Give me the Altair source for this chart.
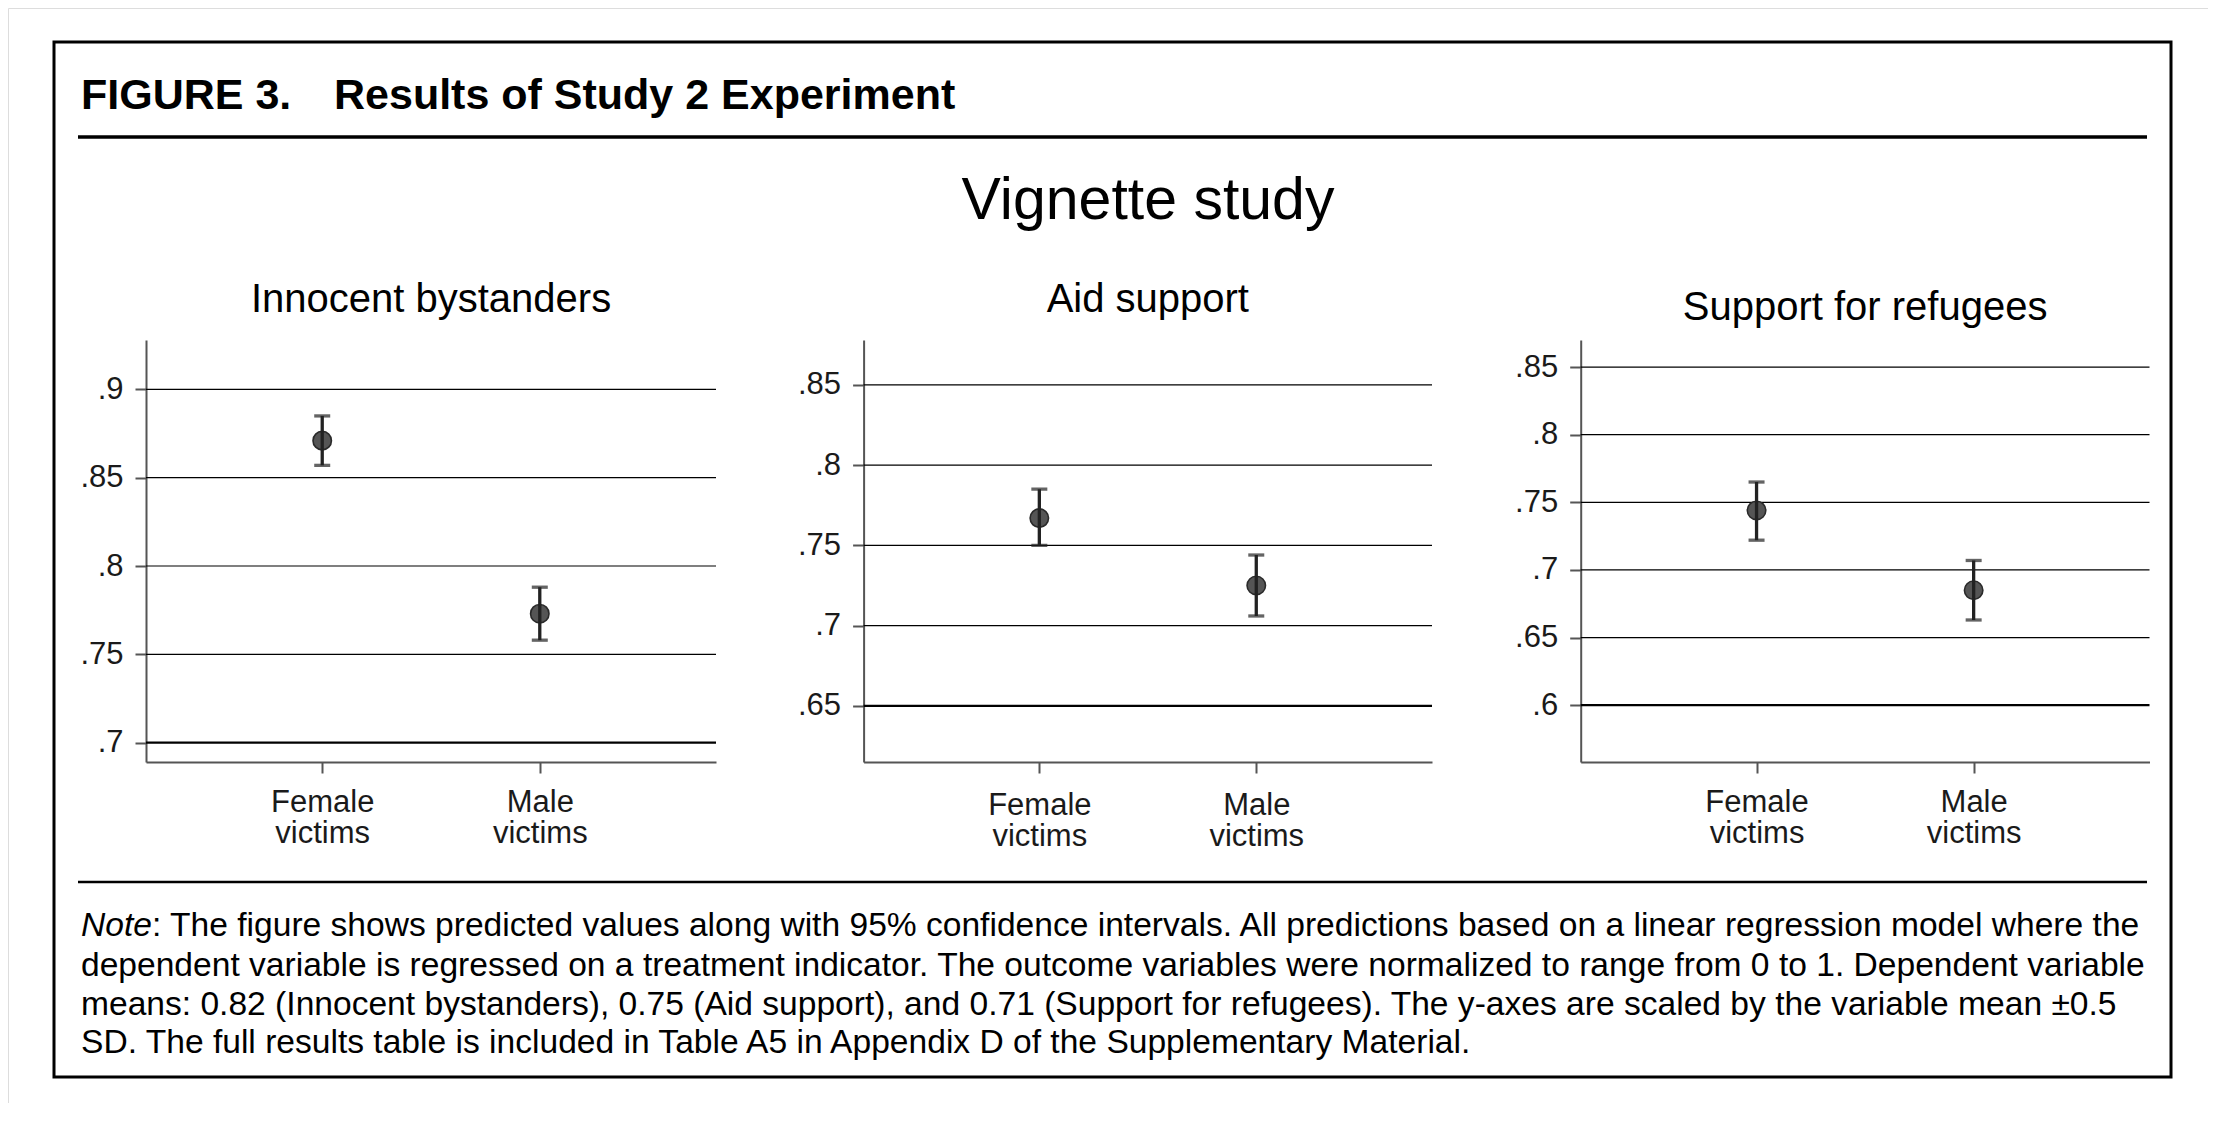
import altair as alt
import pandas as pd

# ---------------- data ----------------
panel_titles = ["Innocent bystanders", "Aid support", "Support for refugees"]
groups = ["Female victims", "Male victims"]
group_pos = [1, 2]
estimates = [[0.871, 0.773], [0.767, 0.725], [0.744, 0.685]]
ci_low = [[0.857, 0.758], [0.750, 0.706], [0.722, 0.663]]
ci_high = [[0.885, 0.788], [0.785, 0.744], [0.765, 0.707]]
y_ticks = [
    [0.7, 0.75, 0.8, 0.85, 0.9],
    [0.65, 0.7, 0.75, 0.8, 0.85],
    [0.6, 0.65, 0.7, 0.75, 0.8, 0.85],
]
y_domains = [[0.689, 0.928], [0.615, 0.878], [0.558, 0.870]]
x_domain = [0.19, 2.81]

fig_label = "FIGURE 3."
fig_title = "Results of Study 2 Experiment"
super_title = "Vignette study"
note_lead = "Note"
note_line1 = ": The figure shows predicted values along with 95% confidence intervals. All predictions based on a linear regression model where the"
note_rest = [
    "dependent variable is regressed on a treatment indicator. The outcome variables were normalized to range from 0 to 1. Dependent variable",
    "means: 0.82 (Innocent bystanders), 0.75 (Aid support), and 0.71 (Support for refugees). The y-axes are scaled by the variable mean \u00b10.5",
    "SD. The full results table is included in Table A5 in Appendix D of the Supplementary Material.",
]

# ---------------- layout ----------------
W, H = 2200, 1095
FONT = "Liberation Sans"
panel_x = [(138, 708), (855.6, 1424), (1572.7, 2141.5)]
panel_y = (754, 332)
title_y = [292, 292, 300]
xlabel_pad = [14, 17, 14]

one = alt.Data(values=[{}])


def text_mark(txt, x, y, size, align="left", weight="normal", style="normal", baseline="middle", line_height=None):
    kw = dict(align=align, baseline=baseline, font=FONT, fontSize=size,
              fontWeight=weight, fontStyle=style, color="black")
    if line_height is not None:
        kw["lineHeight"] = line_height
    return alt.Chart(one).mark_text(**kw).encode(
        x=alt.value(x), y=alt.value(y), text=alt.value(txt))


def hrule(y, x1, x2, width):
    return alt.Chart(one).mark_rule(color="black", strokeWidth=width).encode(
        x=alt.value(x1), x2=alt.value(x2), y=alt.value(y))


NOTE_SIZE = 33.6
decos = [
    alt.Chart(one).mark_rect(fillOpacity=0, stroke="black", strokeWidth=3).encode(
        x=alt.value(46), x2=alt.value(2163), y=alt.value(34), y2=alt.value(1069)),
    text_mark(fig_label, 73, 88, 43, weight="bold"),
    text_mark(fig_title, 326, 88, 43, weight="bold"),
    hrule(129, 70, 2139, 3.5),
    text_mark(super_title, 1140, 193, 59, align="center"),
    hrule(874, 70, 2139, 2.5),
    text_mark(note_lead, 73, 918, NOTE_SIZE, style="italic"),
    text_mark(note_line1, 144, 918, NOTE_SIZE),
    text_mark(note_rest, 73, 941, NOTE_SIZE, baseline="top", line_height=38.5),
]


def panel(i):
    x0, x1 = panel_x[i]
    xs = alt.Scale(domain=x_domain, range=[x0, x1], nice=False, zero=False)
    ys = alt.Scale(domain=y_domains[i], range=[panel_y[0], panel_y[1]], nice=False, zero=False)
    x_expr = "split(datum.value == 1 ? '%s' : '%s', ' ')" % (groups[0], groups[1])
    xaxis = alt.Axis(orient="bottom", offset=panel_y[0] - H, values=group_pos, labelExpr=x_expr,
                     grid=False, domainColor="#555555", domainWidth=2, tickColor="#555555",
                     tickWidth=2, tickSize=11, labelFont=FONT, labelFontSize=31,
                     labelLineHeight=31, labelPadding=xlabel_pad[i], labelColor="#1a1a1a", title=None)
    yaxis = alt.Axis(orient="left", offset=-x0, values=y_ticks[i],
                     labelExpr="substring(toString(datum.value), 1)",
                     grid=False, domainColor="#555555", domainWidth=2, tickColor="#555555",
                     tickWidth=2, tickSize=11, labelFont=FONT, labelFontSize=31,
                     labelPadding=12, labelColor="#1a1a1a", title=None)
    grid_df = pd.DataFrame({"v": y_ticks[i], "xa": x_domain[0], "xb": x_domain[1]})
    low_tick = min(y_ticks[i])
    grid = alt.Chart(grid_df).mark_rule(color="black").encode(
        x=alt.X("xa:Q", scale=xs, axis=xaxis),
        x2="xb:Q",
        y=alt.Y("v:Q", scale=ys, axis=yaxis),
        strokeWidth=alt.when(alt.datum.v == low_tick).then(alt.value(2.3)).otherwise(alt.value(1.2)),
    )
    df = pd.DataFrame({
        "group": groups, "pos": group_pos, "est": estimates[i],
        "lo": ci_low[i], "hi": ci_high[i],
    })
    pts = alt.Chart(df).mark_circle(size=340, color="#555555", stroke="#2a2a2a",
                                    strokeWidth=1.6, opacity=1).encode(
        x=alt.X("pos:Q", scale=xs, axis=xaxis),
        y=alt.Y("est:Q", scale=ys, axis=yaxis),
    )
    err = alt.Chart(df).mark_errorbar(ticks=True, thickness=3.3, size=16, color="#222222").encode(
        x=alt.X("pos:Q", scale=xs, axis=xaxis),
        y=alt.Y("lo:Q", scale=ys, axis=yaxis),
        y2="hi:Q",
    )
    ttl = text_mark(panel_titles[i], (x0 + x1) / 2, title_y[i], 40, align="center")
    return alt.layer(grid, pts, err), ttl


layers = list(decos)
for i in range(3):
    p, t = panel(i)
    layers.append(p)
    layers.append(t)

chart = alt.layer(*layers).resolve_scale(
    x="independent", y="independent"
).resolve_axis(
    x="independent", y="independent"
).properties(
    width=W, height=H, autosize=alt.AutoSizeParams(type="none"), padding=0,
    background="white",
).configure_view(strokeWidth=0).configure(font=FONT)

chart.save("out.html", embed_options={"renderer": "svg", "actions": False})
